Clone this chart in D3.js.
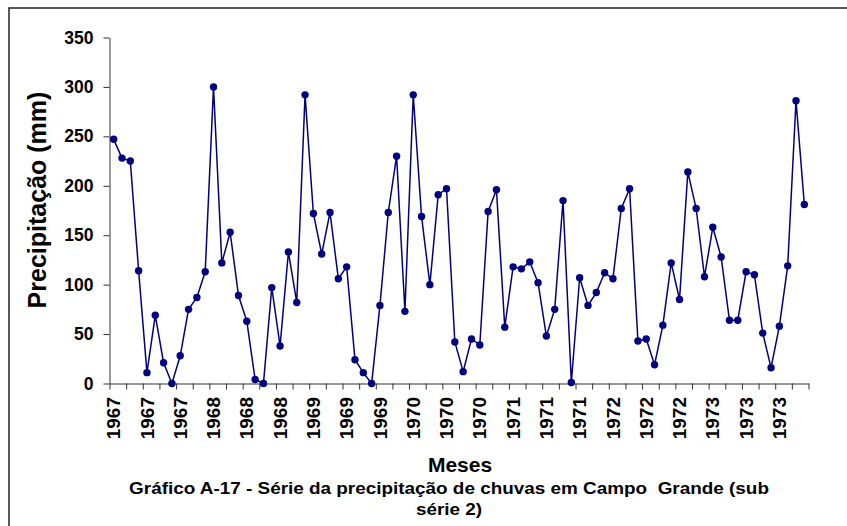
<!DOCTYPE html>
<html>
<head>
<meta charset="utf-8">
<script src="https://cdn.jsdelivr.net/npm/d3@7"></script>
<style>
  html, body { margin: 0; padding: 0; background: #fff; }
  svg { display: block; }
  text { font-family: "Liberation Sans", Arial, sans-serif; font-weight: bold; fill: #000; }
</style>
</head>
<body>
<svg id="chart" width="847" height="526"></svg>
<script>
// Monthly precipitation (mm), Campo Grande, 1967–1973 (sub-série 2)
const values = [
  247, 228, 225, 114, 11, 69, 21, 0, 28, 75, 87, 113,
  300, 122, 153, 89, 63, 4, 0, 97, 38, 133, 82, 292,
  172, 131, 173, 106, 118, 24, 11, 0, 79, 173, 230, 73,
  292, 169, 100, 191, 197, 42, 12, 45, 39, 174, 196, 57,
  118, 116, 123, 102, 48, 75, 185, 1, 107, 79, 92, 112,
  106, 177, 197, 43, 45, 19, 59, 122, 85, 214, 177, 108,
  158, 128, 64, 64, 113, 110, 51, 16, 58, 119, 286, 181
];
const tickLabels = [
  "1967", "1967", "1967", "1968", "1968", "1968", "1969", "1969", "1969",
  "1970", "1970", "1970", "1971", "1971", "1971", "1972", "1972", "1972",
  "1973", "1973", "1973"
];
const yTicks = [0, 50, 100, 150, 200, 250, 300, 350];
const yTitle = "Precipitação (mm)";
const xTitle = "Meses";
const captionLines = [
  "Gráfico A-17 - Série da precipitação de chuvas em Campo  Grande (sub",
  "série 2)"
];

(function () {
const svg = d3.select("#chart");
svg.append("rect").attr("width", 847).attr("height", 526).attr("fill", "#fff");
svg.append("rect")
  .attr("x", 9).attr("y", 8).attr("width", 1000).attr("height", 1000)
  .attr("fill", "none").attr("stroke", "#222").attr("stroke-width", 1.5);

const pL = 109.5, pR = 808.5, pT = 37.5, pB = 383.5;
const idx = d3.range(values.length);
const x = d3.scaleBand().domain(idx).range([pL, pR]).padding(0);
const xEdge = d3.scaleLinear().domain([0, values.length]).range([pL, pR]);
const y = d3.scaleLinear().domain([0, 350]).range([pB, pT]);
const cx = i => x(i) + x.bandwidth() / 2;

// Y axis
const gy = svg.append("g").attr("transform", `translate(${pL},0)`)
  .call(d3.axisLeft(y).tickValues(yTicks).tickSize(6).tickSizeOuter(0).tickPadding(10));
gy.select(".domain").attr("stroke", "#333");
gy.selectAll(".tick line").attr("stroke", "#333");
gy.selectAll(".tick text")
  .attr("font-size", 17.5).attr("fill", "#000");
gy.attr("font-family", null).attr("font-size", null);

// X axis
const gx = svg.append("g").attr("transform", `translate(0,${pB})`)
  .call(d3.axisBottom(xEdge).tickValues(d3.range(0, values.length + 1, 2))
    .tickSize(6).tickSizeOuter(0).tickFormat(""));
gx.select(".domain").attr("stroke", "#333");
gx.selectAll(".tick line").attr("stroke", "#333");

svg.append("g").selectAll("text").data(tickLabels).join("text")
  .attr("transform", (d, j) => `translate(${cx(j * 4)},397) rotate(-90)`)
  .attr("text-anchor", "end")
  .attr("dy", "0.35em")
  .attr("font-size", 19)
  .text(d => d);

// Line + markers
svg.append("path").datum(values)
  .attr("fill", "none").attr("stroke", "#000080").attr("stroke-width", 1.5)
  .attr("d", d3.line().x((d, i) => cx(i)).y(d => y(d)));
svg.append("g").selectAll("circle").data(values).join("circle")
  .attr("cx", (d, i) => cx(i)).attr("cy", d => y(d)).attr("r", 3.7)
  .attr("fill", "#000080");

// Titles
svg.append("text")
  .attr("transform", "translate(46,200) rotate(-90)")
  .attr("text-anchor", "middle").attr("font-size", 25)
  .text(yTitle);
svg.append("text")
  .attr("x", 460).attr("y", 472).attr("text-anchor", "middle")
  .attr("font-size", 21).text(xTitle);

const cap = svg.append("g").attr("transform", "translate(449,0) scale(1.16,1)");
cap.selectAll("text").data(captionLines).join("text")
  .attr("x", 0).attr("y", (d, i) => 494 + i * 21)
  .attr("text-anchor", "middle").attr("font-size", 16.3)
  .style("white-space", "pre")
  .text(d => d);
})();
</script>
</body>
</html>
